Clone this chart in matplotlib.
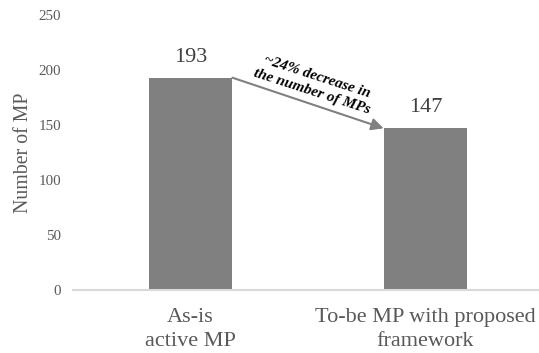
import matplotlib
matplotlib.use("Agg")
import matplotlib.pyplot as plt

categories = ["As-is\nactive MP", "To-be MP with proposed\nframework"]
values = [193, 147]
y_ticks = [0, 50, 100, 150, 200, 250]
note = "~24% decrease in\nthe number of MPs"

plt.rcParams["font.family"] = ["Liberation Serif", "DejaVu Serif"]

fig = plt.figure(figsize=(5.39, 3.53), dpi=100)
ax = fig.add_axes([73 / 539, 63 / 353, 470 / 539, 275 / 353])

bar_w = 0.357
x = list(range(len(values)))
ax.bar(x, values, width=bar_w, color="#808080", zorder=2)

ax.set_xlim(-0.5, 1.5)
ax.set_ylim(0, 250)
ax.set_yticks(y_ticks)
ax.tick_params(axis="y", length=0, pad=8.5, labelsize=10.8, labelcolor="#595959")
ax.set_xticks(x)
ax.set_xticklabels(categories, fontsize=16, color="#595959", linespacing=1.37)
ax.tick_params(axis="x", length=0, pad=13)

for s in ["top", "right", "left"]:
    ax.spines[s].set_visible(False)
ax.spines["bottom"].set_color("#d9d9d9")
ax.spines["bottom"].set_linewidth(1.5)

ax.set_ylabel("Number of MP", fontsize=14.3, color="#595959", labelpad=4)

for xi, v in zip(x, values):
    ax.annotate(str(v), (xi, v), xytext=(0, 8), textcoords="offset points",
                ha="center", va="bottom", fontsize=16, color="#404040")

# arrow from the top-right corner of the first bar to the top-left of the second
ax.annotate("", xy=(x[1] - bar_w / 2, values[1]), xytext=(x[0] + bar_w / 2, values[0]),
            arrowprops=dict(arrowstyle="-|>", color="#808080", lw=1.5,
                            mutation_scale=18, shrinkA=0, shrinkB=0), zorder=3)

ax.text(0.528, 187, note, rotation=-18, rotation_mode="anchor", ha="center",
        va="center", fontsize=11, fontweight="bold", fontstyle="italic",
        color="black", linespacing=1.3)

fig.savefig("out.png", dpi=100)
